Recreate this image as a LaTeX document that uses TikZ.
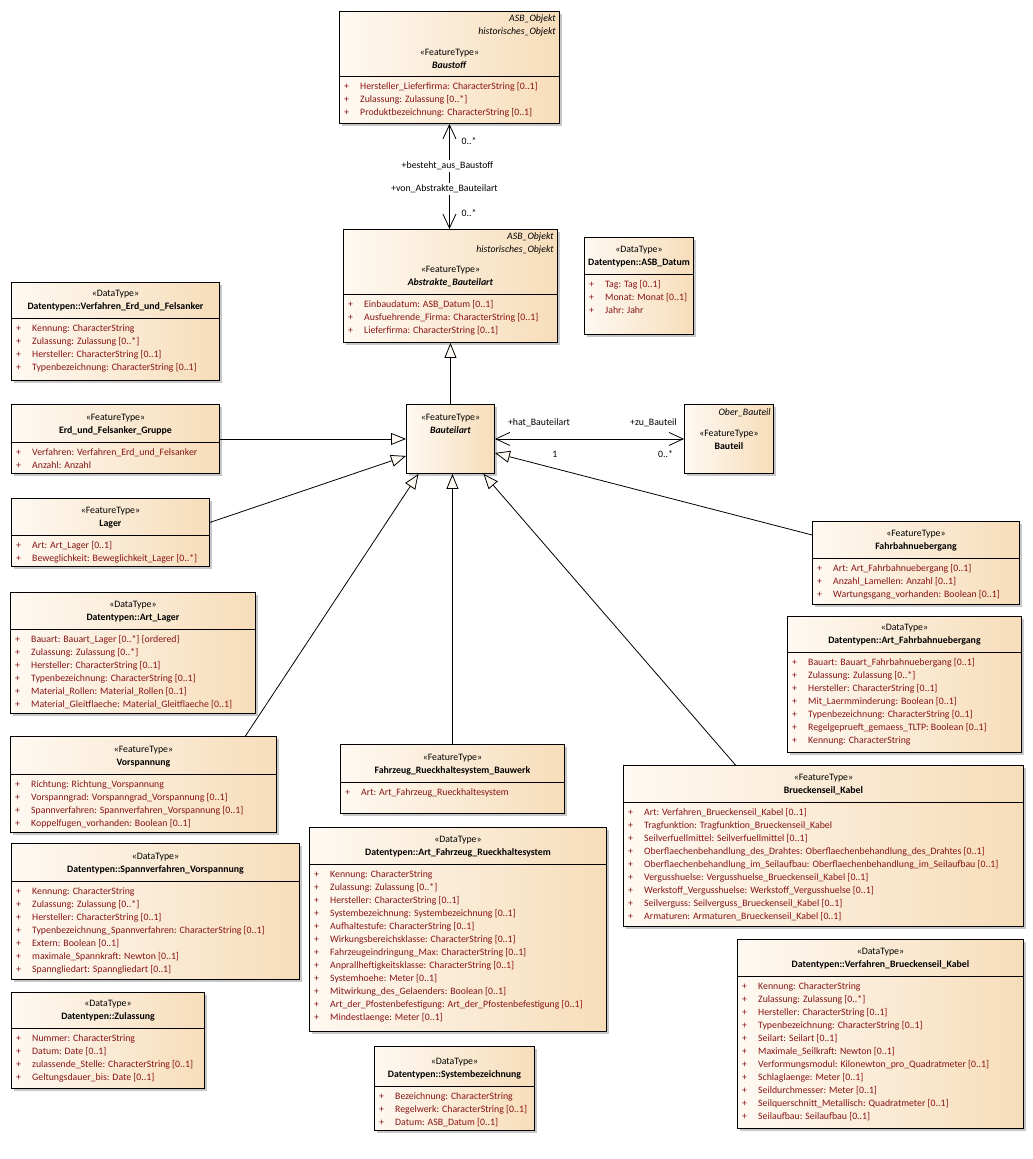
\documentclass[tikz,border=0pt]{standalone}
\usepackage{fontspec}
\setmainfont{Carlito}
\usepackage{tikz}
\usetikzlibrary{arrows.meta, shadows, positioning}

\definecolor{clsL}{RGB}{254,249,242}
\definecolor{clsR}{RGB}{247,221,186}
\definecolor{attrot}{RGB}{135,20,20}

\tikzset{
  cls/.style={draw=black, line width=0.9pt, anchor=north west, inner sep=0pt,
    left color=clsL, right color=clsR,
    drop shadow={shadow xshift=3pt, shadow yshift=-3pt, fill=black!22, opacity=1}},
  kopf/.style={align=center, inner sep=0pt, font=\fontsize{9.8}{13}\selectfont},
  ober/.style={anchor=east, inner sep=0pt, text height=7pt, text depth=2.5pt,
    font=\fontsize{9.8}{13}\selectfont\itshape},
  attr/.style={anchor=west, inner sep=0pt, text height=7pt, text depth=2.5pt,
    text=attrot, font=\fontsize{9.8}{13}\selectfont},
  rolle/.style={inner sep=1pt, text height=7pt, text depth=2.5pt,
    font=\fontsize{9.8}{13}\selectfont},
  gen/.style={line width=0.8pt, -{Triangle[length=15pt, width=12pt, fill=clsL]}},
  assoz/.style={line width=0.8pt,
    {Straight Barb[length=14pt, width=13pt]}-{Straight Barb[length=14pt, width=13pt]}},
}

% Klasse: #1 Name, #2 x, #3 y, #4 Breite, #5 Hoehe, #6 Trennlinie, #7 Kopf, #8 Attribute
\newcommand{\klasse}[8]{%
  \node[cls, minimum width=#4pt, minimum height=#5pt] (#1) at (#2,#3) {};
  \draw[line width=0.8pt] ([yshift=-#6pt]#1.north west) -- ([yshift=-#6pt]#1.north east);
  \node[kopf] at ([yshift={-(#6-17.5)*1pt}]#1.north) {#7};
  \foreach \eintrag [count=\i] in {#8}
    \node[attr] at ([xshift=5pt, yshift={-(#6+11+13*(\i-1))*1pt}]#1.north west)
      {\makebox[16pt][l]{+}\eintrag};
}

\begin{document}
\begin{tikzpicture}[x=1pt, y=-1pt]
    \fill[white] (0,0) rectangle (1033,1159);
    \useasboundingbox (0,0) rectangle (1033,1159);

    % 1. obere Klassen
    \klasse{baustoff}{339}{11}{220}{112}{65}{«FeatureType»\\\textbf{\textit{Baustoff}}}{
        Hersteller\_Lieferfirma: CharacterString [0..1],
        Zulassung: Zulassung [0..*],
        Produktbezeichnung: CharacterString [0..1]}
    \node[ober] at ([xshift=-4pt, yshift=-8.5pt]baustoff.north east) {ASB\_Objekt};
    \node[ober] at ([xshift=-4pt, yshift=-21.5pt]baustoff.north east) {historisches\_Objekt};

    \klasse{abstrakt}{343}{229}{214}{113}{65}{«FeatureType»\\\textbf{\textit{Abstrakte\_Bauteilart}}}{
        Einbaudatum: ASB\_Datum [0..1],
        Ausfuehrende\_Firma: CharacterString [0..1],
        Lieferfirma: CharacterString [0..1]}
    \node[ober] at ([xshift=-4pt, yshift=-8.5pt]abstrakt.north east) {ASB\_Objekt};
    \node[ober] at ([xshift=-4pt, yshift=-21.5pt]abstrakt.north east) {historisches\_Objekt};

    \klasse{datum}{584}{237}{109}{97}{37}{«DataType»\\\textbf{Datentypen::ASB\_Datum}}{
        Tag: Tag [0..1],
        Monat: Monat [0..1],
        Jahr: Jahr}

    % 2. Bauteilart und Bauteil
    \node[cls, minimum width=88pt, minimum height=69pt] (bauteilart) at (406,404) {};
    \node[kopf] at ([yshift=-19.5pt]bauteilart.north) {«FeatureType»\\\textbf{\textit{Bauteilart}}};

    \node[cls, minimum width=89pt, minimum height=69pt] (bauteil) at (684,404) {};
    \node[ober] at ([xshift=-3pt, yshift=-9pt]bauteil.north east) {Ober\_Bauteil};
    \node[kopf] at ([yshift=-35.5pt]bauteil.north) {«FeatureType»\\\textbf{Bauteil}};

    % 3. linke Spalte
    \klasse{erdtyp}{11}{282}{208}{98}{36}{«DataType»\\\textbf{Datentypen::Verfahren\_Erd\_und\_Felsanker}}{
        Kennung: CharacterString,
        Zulassung: Zulassung [0..*],
        Hersteller: CharacterString [0..1],
        Typenbezeichnung: CharacterString [0..1]}

    \klasse{erd}{11}{404}{208}{69}{38}{«FeatureType»\\\textbf{Erd\_und\_Felsanker\_Gruppe}}{
        Verfahren: Verfahren\_Erd\_und\_Felsanker,
        Anzahl: Anzahl}

    \klasse{lager}{11}{498}{198}{68}{37}{«FeatureType»\\\textbf{Lager}}{
        Art: Art\_Lager [0..1],
        Beweglichkeit: Beweglichkeit\_Lager [0..*]}

    \klasse{artlager}{10}{592}{245}{121}{37}{«DataType»\\\textbf{Datentypen::Art\_Lager}}{
        Bauart: Bauart\_Lager [0..*] \{ordered\},
        Zulassung: Zulassung [0..*],
        Hersteller: CharacterString [0..1],
        Typenbezeichnung: CharacterString [0..1],
        Material\_Rollen: Material\_Rollen [0..1],
        Material\_Gleitflaeche: Material\_Gleitflaeche [0..1]}

    \klasse{vorsp}{10}{736}{266}{96}{38}{«FeatureType»\\\textbf{Vorspannung}}{
        Richtung: Richtung\_Vorspannung,
        Vorspanngrad: Vorspanngrad\_Vorspannung [0..1],
        Spannverfahren: Spannverfahren\_Vorspannung [0..1],
        Koppelfugen\_vorhanden: Boolean [0..1]}

    \klasse{spann}{11}{843}{288}{136}{38}{«DataType»\\\textbf{Datentypen::Spannverfahren\_Vorspannung}}{
        Kennung: CharacterString,
        Zulassung: Zulassung [0..*],
        Hersteller: CharacterString [0..1],
        Typenbezeichnung\_Spannverfahren: CharacterString [0..1],
        Extern: Boolean [0..1],
        maximale\_Spannkraft: Newton [0..1],
        Spanngliedart: Spanngliedart [0..1]}

    \klasse{zul}{11}{992}{193}{96}{36}{«DataType»\\\textbf{Datentypen::Zulassung}}{
        Nummer: CharacterString,
        Datum: Date [0..1],
        zulassende\_Stelle: CharacterString [0..1],
        Geltungsdauer\_bis: Date [0..1]}

    % 4. mittlere Spalte
    \klasse{fahrzeug}{340}{744}{224}{69}{38}{«FeatureType»\\\textbf{Fahrzeug\_Rueckhaltesystem\_Bauwerk}}{
        Art: Art\_Fahrzeug\_Rueckhaltesystem}

    \klasse{artfahrzeug}{309}{827}{297}{204}{37}{«DataType»\\\textbf{Datentypen::Art\_Fahrzeug\_Rueckhaltesystem}}{
        Kennung: CharacterString,
        Zulassung: Zulassung [0..*],
        Hersteller: CharacterString [0..1],
        Systembezeichnung: Systembezeichnung [0..1],
        Aufhaltestufe: CharacterString [0..1],
        Wirkungsbereichsklasse: CharacterString [0..1],
        Fahrzeugeindringung\_Max: CharacterString [0..1],
        Anprallheftigkeitsklasse: CharacterString [0..1],
        Systemhoehe: Meter [0..1],
        Mitwirkung\_des\_Gelaenders: Boolean [0..1],
        Art\_der\_Pfostenbefestigung: Art\_der\_Pfostenbefestigung [0..1],
        Mindestlaenge: Meter [0..1]}

    \klasse{system}{374}{1046}{160}{84}{40}{«DataType»\\\textbf{Datentypen::Systembezeichnung}}{
        Bezeichnung: CharacterString,
        Regelwerk: CharacterString [0..1],
        Datum: ASB\_Datum [0..1]}

    % 5. rechte Spalte
    \klasse{fahrbahn}{812}{521}{207}{83}{37}{«FeatureType»\\\textbf{Fahrbahnuebergang}}{
        Art: Art\_Fahrbahnuebergang [0..1],
        Anzahl\_Lamellen: Anzahl [0..1],
        Wartungsgang\_vorhanden: Boolean [0..1]}

    \klasse{artfahrbahn}{787}{616}{234}{136}{36}{«DataType»\\\textbf{Datentypen::Art\_Fahrbahnuebergang}}{
        Bauart: Bauart\_Fahrbahnuebergang [0..1],
        Zulassung: Zulassung [0..*],
        Hersteller: CharacterString [0..1],
        Mit\_Laermminderung: Boolean [0..1],
        Typenbezeichnung: CharacterString [0..1],
        Regelgeprueft\_gemaess\_TLTP: Boolean [0..1],
        Kennung: CharacterString}

    \klasse{seil}{623}{765}{400}{161}{37}{«FeatureType»\\\textbf{Brueckenseil\_Kabel}}{
        Art: Verfahren\_Brueckenseil\_Kabel [0..1],
        Tragfunktion: Tragfunktion\_Brueckenseil\_Kabel,
        Seilverfuellmittel: Seilverfuellmittel [0..1],
        Oberflaechenbehandlung\_des\_Drahtes: Oberflaechenbehandlung\_des\_Drahtes [0..1],
        Oberflaechenbehandlung\_im\_Seilaufbau: Oberflaechenbehandlung\_im\_Seilaufbau [0..1],
        Vergusshuelse: Vergusshuelse\_Brueckenseil\_Kabel [0..1],
        Werkstoff\_Vergusshuelse: Werkstoff\_Vergusshuelse [0..1],
        Seilverguss: Seilverguss\_Brueckenseil\_Kabel [0..1],
        Armaturen: Armaturen\_Brueckenseil\_Kabel [0..1]}

    \klasse{seiltyp}{737}{939}{286}{189}{37}{«DataType»\\\textbf{Datentypen::Verfahren\_Brueckenseil\_Kabel}}{
        Kennung: CharacterString,
        Zulassung: Zulassung [0..*],
        Hersteller: CharacterString [0..1],
        Typenbezeichnung: CharacterString [0..1],
        Seilart: Seilart [0..1],
        Maximale\_Seilkraft: Newton [0..1],
        Verformungsmodul: Kilonewton\_pro\_Quadratmeter [0..1],
        Schlaglaenge: Meter [0..1],
        Seildurchmesser: Meter [0..1],
        Seilquerschnitt\_Metallisch: Quadratmeter [0..1],
        Seilaufbau: Seilaufbau [0..1]}

    % 6. Assoziationen
    \draw[assoz] (baustoff.south) -- (baustoff.south |- abstrakt.north);
    \node[rolle, anchor=west] at ([xshift=11pt, yshift=-18pt]baustoff.south) {0..*};
    \node[rolle, fill=white] at ([xshift=-2pt, yshift=-42pt]baustoff.south) {+besteht\_aus\_Baustoff};
    \node[rolle, fill=white] at ([xshift=-6pt, yshift=40pt]abstrakt.north) {+von\_Abstrakte\_Bauteilart};
    \node[rolle, anchor=west] at ([xshift=10pt, yshift=15pt]abstrakt.north) {0..*};

    \draw[assoz] (bauteilart.east) -- (bauteil.west);
    \node[rolle, anchor=west] at ([xshift=12pt, yshift=16pt]bauteilart.east) {+hat\_Bauteilart};
    \node[rolle, anchor=west] at ([xshift=-55pt, yshift=16pt]bauteil.west) {+zu\_Bauteil};
    \node[rolle] at ([xshift=60pt, yshift=-16pt]bauteilart.east) {1};
    \node[rolle, anchor=west] at ([xshift=-27pt, yshift=-16pt]bauteil.west) {0..*};

    % 7. Generalisierungen
    \draw[gen] (bauteilart.north) -- (abstrakt.south);
    \draw[gen] (erd.east) -- (bauteilart.west);
    \draw[gen] ([yshift=10pt]lager.east) -- ([yshift=-17pt]bauteilart.west);
    \draw[gen] ([xshift=102pt]vorsp.north) -- ([xshift=-32pt]bauteilart.south);
    \draw[gen] (fahrzeug.north) -- (fahrzeug.north |- bauteilart.south);
    \draw[gen] ([xshift=-88pt]seil.north) -- ([xshift=33pt]bauteilart.south);
    \draw[gen] ([yshift=28pt]fahrbahn.west) -- ([yshift=-14pt]bauteilart.east);
\end{tikzpicture}
\end{document}
